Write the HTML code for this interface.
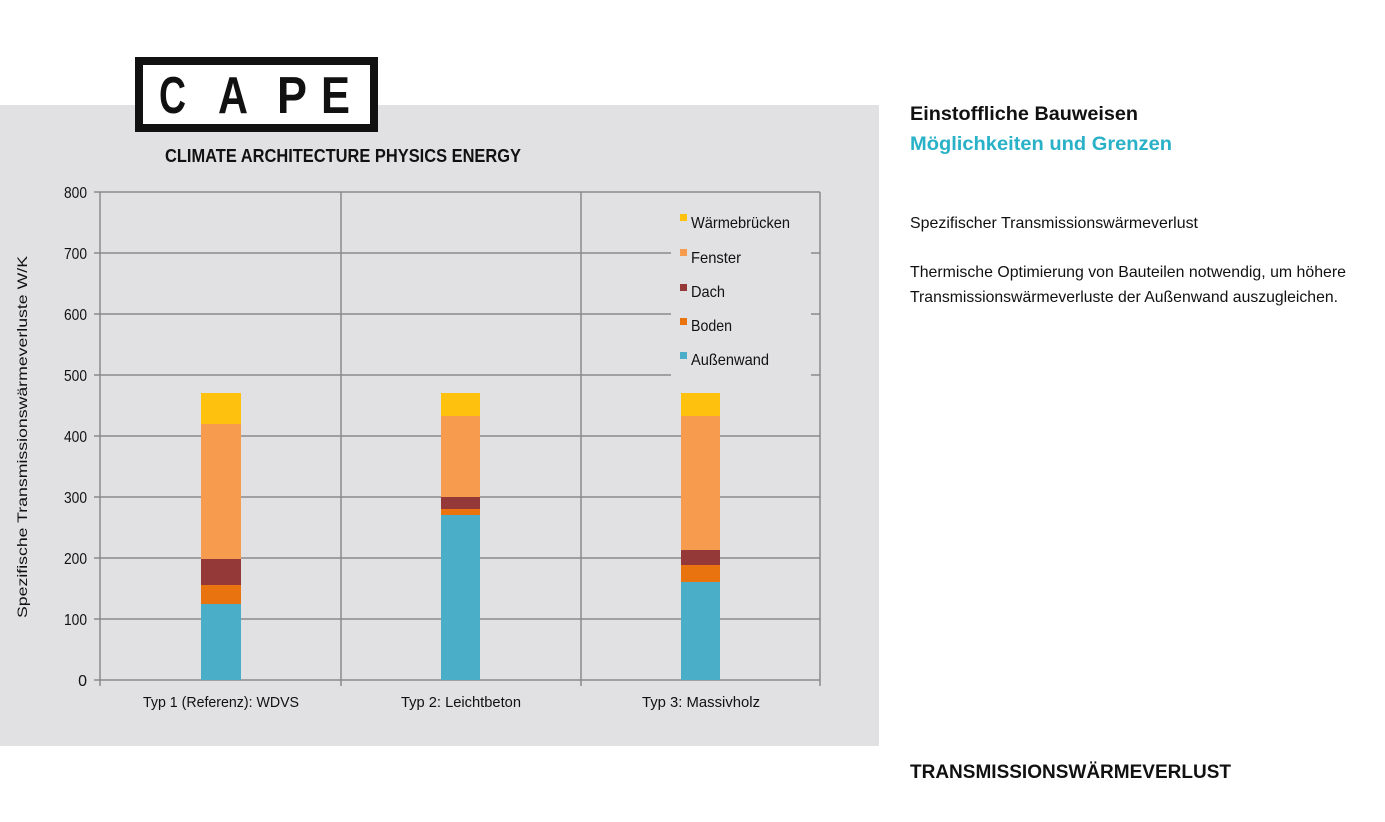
<!DOCTYPE html>
<html><head><meta charset="utf-8"><style>
html,body{margin:0;padding:0;background:#fff;}
svg{display:block;font-family:"Liberation Sans",sans-serif;}
</style></head><body>
<svg width="1385" height="822" viewBox="0 0 1385 822" xmlns="http://www.w3.org/2000/svg">
<rect x="0" y="105" width="879" height="641" fill="#e1e1e3"/>
<!-- logo -->
<rect x="139" y="61" width="235" height="67" fill="#fff" stroke="#111" stroke-width="8"/>
<g font-weight="bold" font-size="52" fill="#111">
<text x="159" y="113" textLength="27" lengthAdjust="spacingAndGlyphs">C</text>
<text x="218" y="113" textLength="30" lengthAdjust="spacingAndGlyphs">A</text>
<text x="277" y="113" textLength="30" lengthAdjust="spacingAndGlyphs">P</text>
<text x="321" y="113" textLength="29" lengthAdjust="spacingAndGlyphs">E</text>
</g>
<text x="165" y="162" font-weight="bold" font-size="18" fill="#111" textLength="356" lengthAdjust="spacingAndGlyphs">CLIMATE ARCHITECTURE PHYSICS ENERGY</text>
<!-- grid -->
<g stroke="#8a8a8a" stroke-width="1.5">
<line x1="100" y1="192" x2="820" y2="192"/><line x1="100" y1="253" x2="820" y2="253"/>
<line x1="100" y1="314" x2="820" y2="314"/><line x1="100" y1="375" x2="820" y2="375"/>
<line x1="100" y1="436" x2="820" y2="436"/><line x1="100" y1="497" x2="820" y2="497"/>
<line x1="100" y1="558" x2="820" y2="558"/><line x1="100" y1="619" x2="820" y2="619"/>
<line x1="94" y1="680" x2="820" y2="680"/>
<line x1="100" y1="192" x2="100" y2="686"/><line x1="341" y1="192" x2="341" y2="686"/>
<line x1="581" y1="192" x2="581" y2="686"/><line x1="820" y1="192" x2="820" y2="686"/>
<line x1="94" y1="192" x2="100" y2="192"/><line x1="94" y1="253" x2="100" y2="253"/>
<line x1="94" y1="314" x2="100" y2="314"/><line x1="94" y1="375" x2="100" y2="375"/>
<line x1="94" y1="436" x2="100" y2="436"/><line x1="94" y1="497" x2="100" y2="497"/>
<line x1="94" y1="558" x2="100" y2="558"/><line x1="94" y1="619" x2="100" y2="619"/>
</g>
<g font-size="16" fill="#111" text-anchor="end">
<text x="87" y="198" textLength="23" lengthAdjust="spacingAndGlyphs">800</text><text x="87" y="259" textLength="23" lengthAdjust="spacingAndGlyphs">700</text><text x="87" y="320" textLength="23" lengthAdjust="spacingAndGlyphs">600</text>
<text x="87" y="381" textLength="23" lengthAdjust="spacingAndGlyphs">500</text><text x="87" y="442" textLength="23" lengthAdjust="spacingAndGlyphs">400</text><text x="87" y="503" textLength="23" lengthAdjust="spacingAndGlyphs">300</text>
<text x="87" y="564" textLength="23" lengthAdjust="spacingAndGlyphs">200</text><text x="87" y="625" textLength="23" lengthAdjust="spacingAndGlyphs">100</text><text x="87" y="686">0</text>
</g>
<text transform="translate(27,437) rotate(-90)" text-anchor="middle" font-size="14" fill="#111" textLength="362" lengthAdjust="spacingAndGlyphs">Spezifische Transmissionswärmeverluste W/K</text>
<!-- bars -->
<g>
<rect x="201" y="604" width="40" height="76" fill="#4aaec8"/>
<rect x="201" y="585" width="40" height="19" fill="#e8730f"/>
<rect x="201" y="559" width="40" height="26" fill="#943838"/>
<rect x="201" y="424" width="40" height="135" fill="#f79b4e"/>
<rect x="201" y="393" width="40" height="31" fill="#fec10e"/>
<rect x="441" y="515" width="39" height="165" fill="#4aaec8"/>
<rect x="441" y="509" width="39" height="6" fill="#e8730f"/>
<rect x="441" y="497" width="39" height="12" fill="#943838"/>
<rect x="441" y="416" width="39" height="81" fill="#f79b4e"/>
<rect x="441" y="393" width="39" height="23" fill="#fec10e"/>
<rect x="681" y="582" width="39" height="98" fill="#4aaec8"/>
<rect x="681" y="565" width="39" height="17" fill="#e8730f"/>
<rect x="681" y="550" width="39" height="15" fill="#943838"/>
<rect x="681" y="416" width="39" height="134" fill="#f79b4e"/>
<rect x="681" y="393" width="39" height="23" fill="#fec10e"/>
</g>
<!-- legend -->
<rect x="671" y="200" width="140" height="176" fill="#e1e1e3"/>
<rect x="680" y="214" width="7" height="7" fill="#fec10e"/>
<rect x="680" y="249" width="7" height="7" fill="#f79b4e"/>
<rect x="680" y="284" width="7" height="7" fill="#943838"/>
<rect x="680" y="318" width="7" height="7" fill="#e8730f"/>
<rect x="680" y="352" width="7" height="7" fill="#4aaec8"/>
<g font-size="16" fill="#111">
<text x="691" y="228" textLength="99" lengthAdjust="spacingAndGlyphs">Wärmebrücken</text>
<text x="691" y="263" textLength="50" lengthAdjust="spacingAndGlyphs">Fenster</text>
<text x="691" y="297" textLength="34" lengthAdjust="spacingAndGlyphs">Dach</text>
<text x="691" y="331" textLength="41" lengthAdjust="spacingAndGlyphs">Boden</text>
<text x="691" y="365" textLength="78" lengthAdjust="spacingAndGlyphs">Außenwand</text>
</g>
<g font-size="15" fill="#111" text-anchor="middle">
<text x="221" y="707" textLength="156" lengthAdjust="spacingAndGlyphs">Typ 1 (Referenz): WDVS</text>
<text x="461" y="707" textLength="120" lengthAdjust="spacingAndGlyphs">Typ 2: Leichtbeton</text>
<text x="701" y="707" textLength="118" lengthAdjust="spacingAndGlyphs">Typ 3: Massivholz</text>
</g>
<!-- right text -->
<text x="910" y="120" font-weight="bold" font-size="19" fill="#111" textLength="228" lengthAdjust="spacingAndGlyphs">Einstoffliche Bauweisen</text>
<text x="910" y="150" font-weight="bold" font-size="19" fill="#29b1c8" textLength="262" lengthAdjust="spacingAndGlyphs">Möglichkeiten und Grenzen</text>
<text x="910" y="228" font-size="16" fill="#111" textLength="288" lengthAdjust="spacingAndGlyphs">Spezifischer Transmissionswärmeverlust</text>
<text x="910" y="277" font-size="16" fill="#111" textLength="436" lengthAdjust="spacingAndGlyphs">Thermische Optimierung von Bauteilen notwendig, um höhere</text>
<text x="910" y="302" font-size="16" fill="#111" textLength="428" lengthAdjust="spacingAndGlyphs">Transmissionswärmeverluste der Außenwand auszugleichen.</text>
<text x="910" y="778" font-weight="bold" font-size="19" fill="#111" textLength="321" lengthAdjust="spacingAndGlyphs">TRANSMISSIONSWÄRMEVERLUST</text>
</svg>
</body></html>
